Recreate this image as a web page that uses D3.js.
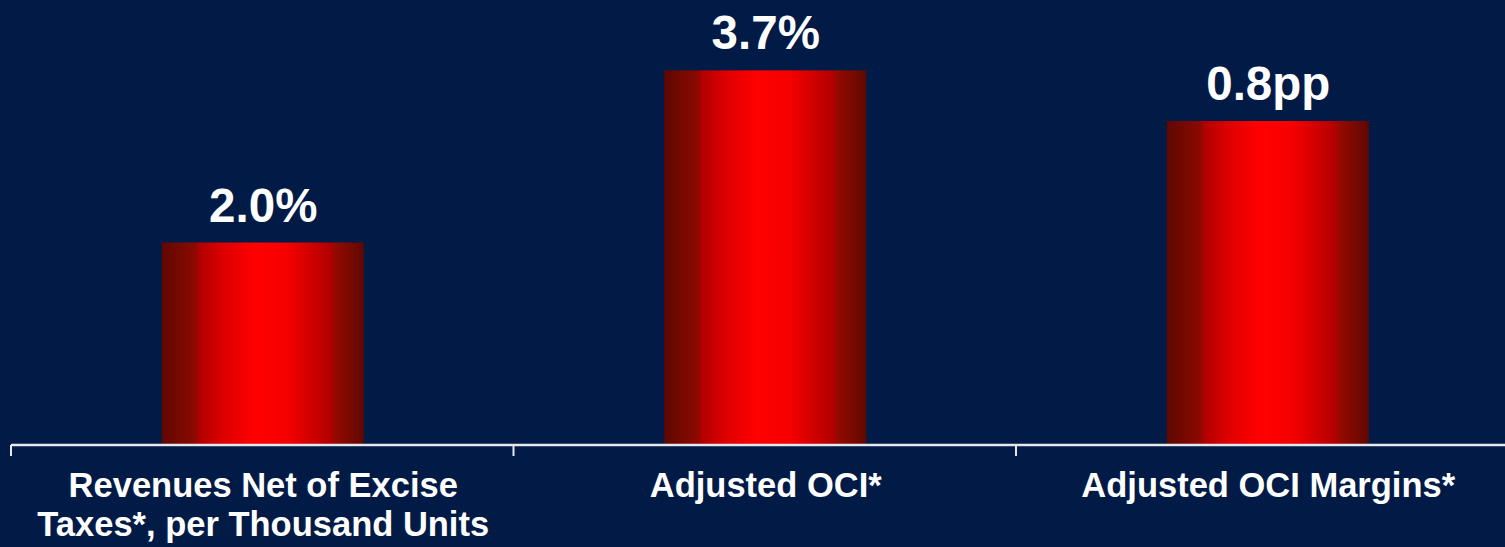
<!DOCTYPE html>
<html>
<head>
<meta charset="utf-8">
<script src="https://cdn.jsdelivr.net/npm/d3@7"></script>
<style>
  html, body { margin: 0; padding: 0; background: #011b46; }
  svg { display: block; }
  text { font-family: "Liberation Sans", Arial, sans-serif; font-weight: bold; fill: #ffffff; }
</style>
</head>
<body>
<svg id="chart" width="1505" height="547"></svg>
<script>
// Growth metrics
const categories = [
  "Revenues Net of Excise\nTaxes*, per Thousand Units",
  "Adjusted OCI*",
  "Adjusted OCI Margins*"
];
const values = [2.0, 3.7, 0.8];
const units = ["%", "%", "pp"];

const W = 1505, H = 547;
const baseY = 445;
const svg = d3.select("#chart");

svg.append("rect").attr("width", W).attr("height", H).attr("fill", "#011b46");

// Horizontal gradient for the cylinder-like bars
const defs = svg.append("defs");
const grad = defs.append("linearGradient")
  .attr("id", "barGrad").attr("x1", "0%").attr("x2", "100%").attr("y1", "0%").attr("y2", "0%");
[
  [0, "#5e0800"], [0.17, "#8c0a00"], [0.18, "#ae0000"], [0.3, "#dc0000"],
  [0.46, "#ff0000"], [0.62, "#f60000"], [0.84, "#b00000"], [0.85, "#980a00"],
  [1, "#5e0800"]
].forEach(([o, c]) => grad.append("stop").attr("offset", o).attr("stop-color", c));

const x = d3.scaleBand()
  .domain(d3.range(categories.length))
  .range([11, 1518.5])
  .paddingInner(0.6)
  .paddingOuter(0.3);

// Percent growth and percentage-point change use their own scales
const yPct = d3.scaleLinear().domain([0, 4]).range([baseY, 40]);
const yPp = d3.scaleLinear().domain([0, 1]).range([baseY, 40]);
const yFor = i => units[i] === "pp" ? yPp : yPct;

const bars = svg.append("g");
bars.selectAll("rect")
  .data(values)
  .join("rect")
  .attr("x", (d, i) => x(i))
  .attr("width", x.bandwidth() + 1)
  .attr("y", (d, i) => yFor(i)(d))
  .attr("height", (d, i) => baseY - yFor(i)(d))
  .attr("fill", "url(#barGrad)");

// Value labels
svg.append("g").selectAll("text")
  .data(values)
  .join("text")
  .attr("x", (d, i) => x(i) + x.bandwidth() / 2 + 1)
  .attr("y", (d, i) => yFor(i)(d) - 21)
  .attr("text-anchor", "middle")
  .style("font-size", "47.5px")
  .text((d, i) => d.toFixed(1) + units[i]);

// Baseline axis with ticks at the category boundaries
const axis = svg.append("g");
axis.append("line")
  .attr("x1", 11).attr("x2", W)
  .attr("y1", baseY).attr("y2", baseY)
  .attr("stroke", "#e6e8ee").attr("stroke-width", 2.5);
const step = x.step();
axis.selectAll("line.tick")
  .data(d3.range(categories.length + 1))
  .join("line")
  .attr("class", "tick")
  .attr("x1", i => 11 + i * step).attr("x2", i => 11 + i * step)
  .attr("y1", baseY).attr("y2", baseY + 11)
  .attr("stroke", "#e6e8ee").attr("stroke-width", 2);

// Category labels, one text element per line
const labelSize = 34.5, lineGap = 38.5;
const labelLines = [];
categories.forEach((c, i) => c.split("\n").forEach((line, k) => labelLines.push({ i, k, line })));
svg.append("g").selectAll("text")
  .data(labelLines)
  .join("text")
  .attr("x", d => x(d.i) + x.bandwidth() / 2 + 1)
  .attr("y", d => 497 + d.k * lineGap)
  .attr("text-anchor", "middle")
  .style("font-size", labelSize + "px")
  .text(d => d.line);
</script>
</body>
</html>
